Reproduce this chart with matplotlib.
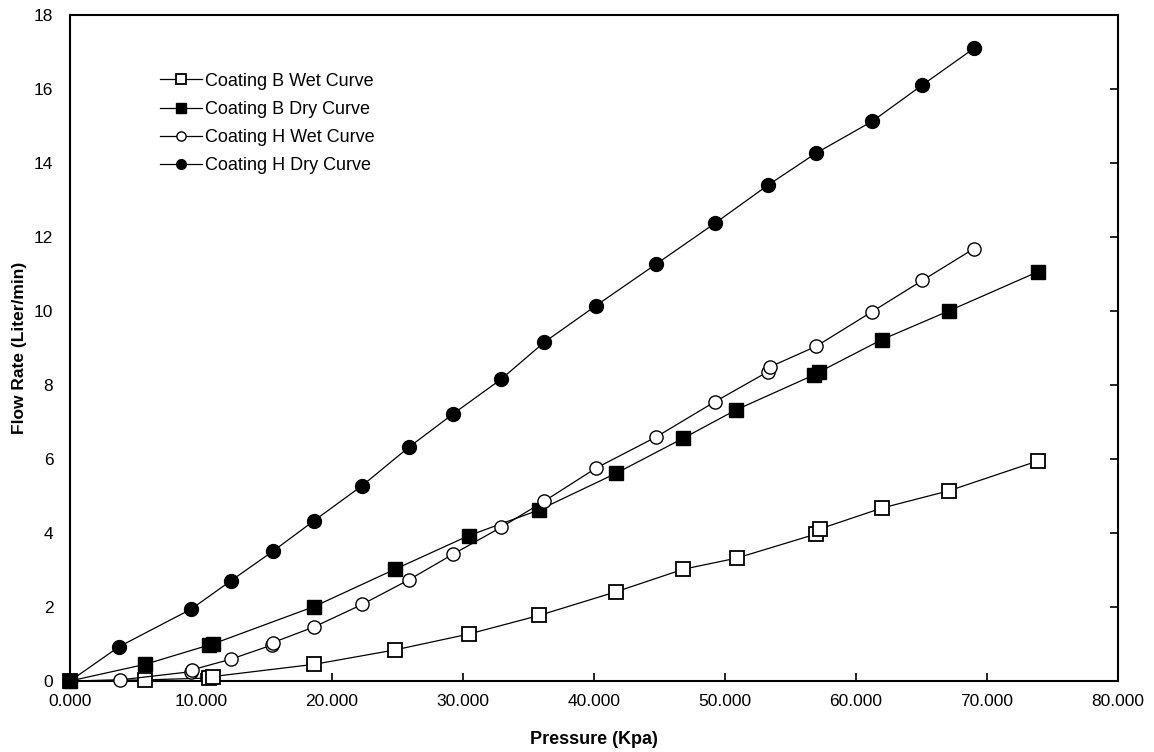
import matplotlib
matplotlib.use("Agg")
import matplotlib.pyplot as plt

# ---- data ----
b_wet_x = [0, 5.73, 10.6, 10.9, 18.63, 24.81, 30.46, 35.8, 41.68, 46.82, 50.89, 56.95, 57.25, 61.96, 67.1, 73.92]
b_wet_y = [0, 0.03, 0.08, 0.12, 0.45, 0.84, 1.27, 1.77, 2.41, 3.02, 3.32, 3.97, 4.11, 4.67, 5.14, 5.95]

b_dry_x = [0, 5.73, 10.6, 10.9, 18.63, 24.81, 30.46, 35.8, 41.68, 46.82, 50.82, 56.8, 57.2, 61.96, 67.1, 73.92]
b_dry_y = [0, 0.45, 0.97, 1.0, 2.01, 3.02, 3.93, 4.62, 5.61, 6.56, 7.32, 8.27, 8.35, 9.22, 10.0, 11.06]

h_wet_x = [0, 3.82, 9.2, 9.3, 12.29, 15.4, 15.5, 18.63, 22.31, 25.85, 29.26, 32.9, 36.21, 40.15, 44.73, 49.26, 53.3, 53.4, 56.95, 61.24, 65.06, 69.0]
h_wet_y = [0, 0.03, 0.25, 0.3, 0.59, 0.97, 1.04, 1.46, 2.07, 2.73, 3.43, 4.15, 4.86, 5.75, 6.59, 7.55, 8.36, 8.48, 9.04, 9.98, 10.82, 11.68]

h_dry_x = [0, 3.76, 9.24, 12.29, 15.47, 18.63, 22.31, 25.85, 29.26, 32.9, 36.2, 40.15, 44.73, 49.21, 53.3, 56.95, 61.24, 65.06, 69.0]
h_dry_y = [0, 0.93, 1.94, 2.71, 3.50, 4.33, 5.28, 6.31, 7.22, 8.15, 9.15, 10.14, 11.26, 12.36, 13.4, 14.26, 15.12, 16.1, 17.09]

labels = ["Coating B Wet Curve", "Coating B Dry Curve", "Coating H Wet Curve", "Coating H Dry Curve"]
x_ticks = [0, 10, 20, 30, 40, 50, 60, 70, 80]
y_ticks = [0, 2, 4, 6, 8, 10, 12, 14, 16, 18]

plt.rcParams['font.family'] = ['Liberation Sans', 'DejaVu Sans']

fig = plt.figure(figsize=(11.54, 7.52), dpi=100)
ax = fig.add_axes([70/1154, 1 - 681/752, 1048/1154, 666.3/752])

lw = 0.9
ms = 9.5
common = dict(color='black', lw=lw, clip_on=False, zorder=3)
ax.plot(b_wet_x, b_wet_y, marker='s', ms=ms, mfc='white', mec='black', mew=1.3, label=labels[0], **common)
ax.plot(b_dry_x, b_dry_y, marker='s', ms=ms, mfc='black', mec='black', mew=1.0, label=labels[1], **common)
ax.plot(h_wet_x, h_wet_y, marker='o', ms=ms, mfc='white', mec='black', mew=1.0, label=labels[2], **common)
ax.plot(h_dry_x, h_dry_y, marker='o', ms=ms + 0.5, mfc='black', mec='black', mew=1.0, label=labels[3], **common)

ax.set_xlim(0, 80)
ax.set_ylim(0, 18)
ax.set_xticks(x_ticks)
ax.set_xticklabels([f"{v:.3f}" for v in x_ticks])
ax.set_yticks(y_ticks)
ax.set_yticklabels([str(v) for v in y_ticks])

ax.tick_params(axis='x', direction='in', length=6, width=1.2, labelsize=12.5, pad=9)
ax.tick_params(axis='y', direction='in', length=6, width=1.2, labelsize=12.5,
               left=False, right=True, labelleft=True, pad=12)
for s in ax.spines.values():
    s.set_linewidth(1.5)
    s.set_color('black')

ax.set_xlabel("Pressure (Kpa)", fontsize=13, fontweight='bold', labelpad=16)
ax.set_ylabel("Flow Rate (Liter/min)", fontsize=12.5, fontweight='bold', labelpad=5)

leg = ax.legend(loc='upper left', bbox_to_anchor=(0.086, 0.913), frameon=False,
                fontsize=13, markerscale=0.7, handlelength=2.3, handletextpad=0.2,
                labelspacing=0.62, borderpad=0, borderaxespad=0)

fig.savefig("out.png", dpi=100, facecolor='white')
